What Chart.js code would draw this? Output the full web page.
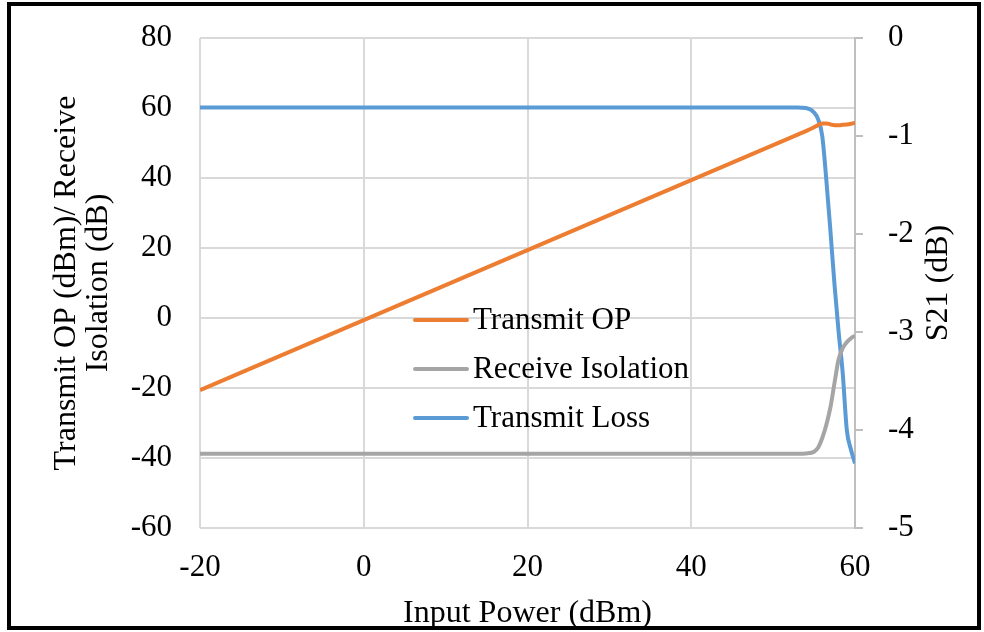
<!DOCTYPE html>
<html>
<head>
<meta charset="utf-8">
<script src="https://cdn.jsdelivr.net/npm/chart.js@4.4.1/dist/chart.umd.min.js"></script>
<style>
    html, body { margin: 0; padding: 0; background: #fff; }
    #contenedor { position: relative; width: 984px; height: 632px; }
    #marco { position: absolute; left: 7px; top: 2px; width: 974px; height: 628px; box-sizing: border-box; border: 4px solid #000; pointer-events: none; }
</style>
</head>
<body>
<div id="contenedor">
    <canvas id="grafica" width="984" height="632"></canvas>
    <div id="marco"></div>
</div>
<script>
// Input power sweep (dBm); finer steps near compression
const potenciaEntrada = [-20, -10, 0, 10, 20, 30, 40, 50, 53, 54, 55, 55.5, 56, 56.5, 57, 57.5, 58, 58.5, 59, 59.5, 60];
// Left axis (dBm / dB)
const transmitOP = [-20.6, -10.6, -0.6, 9.4, 19.4, 29.4, 39.4, 49.4, 52.4, 53.4, 54.5, 55.1, 55.6, 55.6, 55.3, 55.1, 55.1, 55.2, 55.3, 55.5, 55.8];
const receiveIsolation = [-38.8, -38.8, -38.8, -38.8, -38.8, -38.8, -38.8, -38.8, -38.8, -38.7, -38.2, -37.0, -34.3, -30.5, -25.5, -18.5, -11.8, -8.6, -6.9, -5.8, -5.1];
// Right axis, S21 (dB)
const transmitLoss = [-0.71, -0.71, -0.71, -0.71, -0.71, -0.71, -0.71, -0.71, -0.71, -0.715, -0.76, -0.83, -1.0, -1.45, -1.97, -2.52, -3.0, -3.42, -4.0, -4.2, -4.34];

const ticksX = [-20, 0, 20, 40, 60];
const ticksIzq = [-60, -40, -20, 0, 20, 40, 60, 80];
const ticksDer = [-5, -4, -3, -2, -1, 0];

const FUENTE = '"Liberation Serif", "Times New Roman", serif';
const fuente = { family: FUENTE, size: 31, lineHeight: 1.0 };
const fuenteTitulo = { family: FUENTE, size: 32, lineHeight: 1.0 };
const COLOR_GRID = '#d9d9d9';

const puntos = (ys) => potenciaEntrada.map((x, i) => ({ x, y: ys[i] }));

// the y scales would otherwise push the plot down by label height + padding
const sinRelleno = (s) => { s.paddingTop = 0; s.paddingBottom = 0; };

// legend drawn inside the plot area
const leyendaInterna = {
    id: 'leyendaInterna',
    afterDatasetsDraw(chart) {
        const ctx = chart.ctx;
        ctx.save();
        ctx.font = `31px ${FUENTE}`;
        ctx.textBaseline = 'middle';
        ctx.textAlign = 'left';
        chart.data.datasets.forEach((ds, i) => {
            const y = 320 + i * 49;
            ctx.strokeStyle = ds.borderColor;
            ctx.lineWidth = 4;
            ctx.lineCap = 'round';
            ctx.beginPath();
            ctx.moveTo(415, y);
            ctx.lineTo(467, y);
            ctx.stroke();
            ctx.fillStyle = '#000';
            ctx.fillText(ds.label, 473, y + 1);
        });
        ctx.restore();
    }
};

// right axis title reads bottom-to-top like the left one
const tituloDerecho = {
    id: 'tituloDerecho',
    afterDraw(chart) {
        const { ctx, chartArea } = chart;
        ctx.save();
        ctx.translate(939, (chartArea.top + chartArea.bottom) / 2);
        ctx.rotate(-Math.PI / 2);
        ctx.font = `32px ${FUENTE}`;
        ctx.fillStyle = '#000';
        ctx.textAlign = 'center';
        ctx.textBaseline = 'middle';
        ctx.fillText('S21 (dB)', 0, 0);
        ctx.restore();
    }
};

new Chart(document.getElementById('grafica'), {
    type: 'line',
    data: {
        datasets: [
            { label: 'Transmit OP', data: puntos(transmitOP), borderColor: '#ed7d31', yAxisID: 'y' },
            { label: 'Receive Isolation', data: puntos(receiveIsolation), borderColor: '#a5a5a5', yAxisID: 'y' },
            { label: 'Transmit Loss', data: puntos(transmitLoss), borderColor: '#5b9bd5', yAxisID: 'y2' }
        ]
    },
    options: {
        responsive: false,
        animation: false,
        layout: { padding: { top: 38 } },
        elements: {
            line: { borderWidth: 4, cubicInterpolationMode: 'monotone', fill: false },
            point: { radius: 0 }
        },
        plugins: {
            legend: { display: false },
            tooltip: { enabled: false }
        },
        scales: {
            x: {
                type: 'linear',
                min: -20,
                max: 60,
                afterBuildTicks: s => { s.ticks = ticksX.map(v => ({ value: v })); },
                afterFit: s => { s.height = 104; },
                ticks: { font: fuente, color: '#000', padding: 24, maxRotation: 0 },
                grid: { color: COLOR_GRID, lineWidth: 2, drawTicks: false },
                border: { display: false },
                title: { display: true, text: 'Input Power (dBm)', font: fuenteTitulo, color: '#000', padding: { top: 0, bottom: 2 } }
            },
            y: {
                position: 'left',
                min: -60,
                max: 80,
                afterBuildTicks: s => { s.ticks = ticksIzq.map(v => ({ value: v })); },
                afterFit: s => { s.width = 200; sinRelleno(s); },
                ticks: { font: fuente, color: '#000', padding: 28 },
                grid: { color: COLOR_GRID, lineWidth: 2, drawTicks: false },
                border: { display: false },
                title: {
                    display: true,
                    text: ['Transmit OP (dBm)/ Receive', 'Isolation (dB)'],
                    font: fuenteTitulo,
                    color: '#000',
                    padding: { top: 51, bottom: 0 }
                }
            },
            y2: {
                position: 'right',
                min: -5,
                max: 0,
                afterBuildTicks: s => { s.ticks = ticksDer.map(v => ({ value: v })); },
                afterFit: s => { s.width = 129; sinRelleno(s); },
                ticks: { font: fuente, color: '#000', padding: 25 },
                grid: { drawOnChartArea: false, color: '#bfbfbf', lineWidth: 2, tickLength: 8 },
                border: { color: '#bfbfbf', width: 2 }
            }
        }
    },
    plugins: [leyendaInterna, tituloDerecho]
});
</script>
</body>
</html>
